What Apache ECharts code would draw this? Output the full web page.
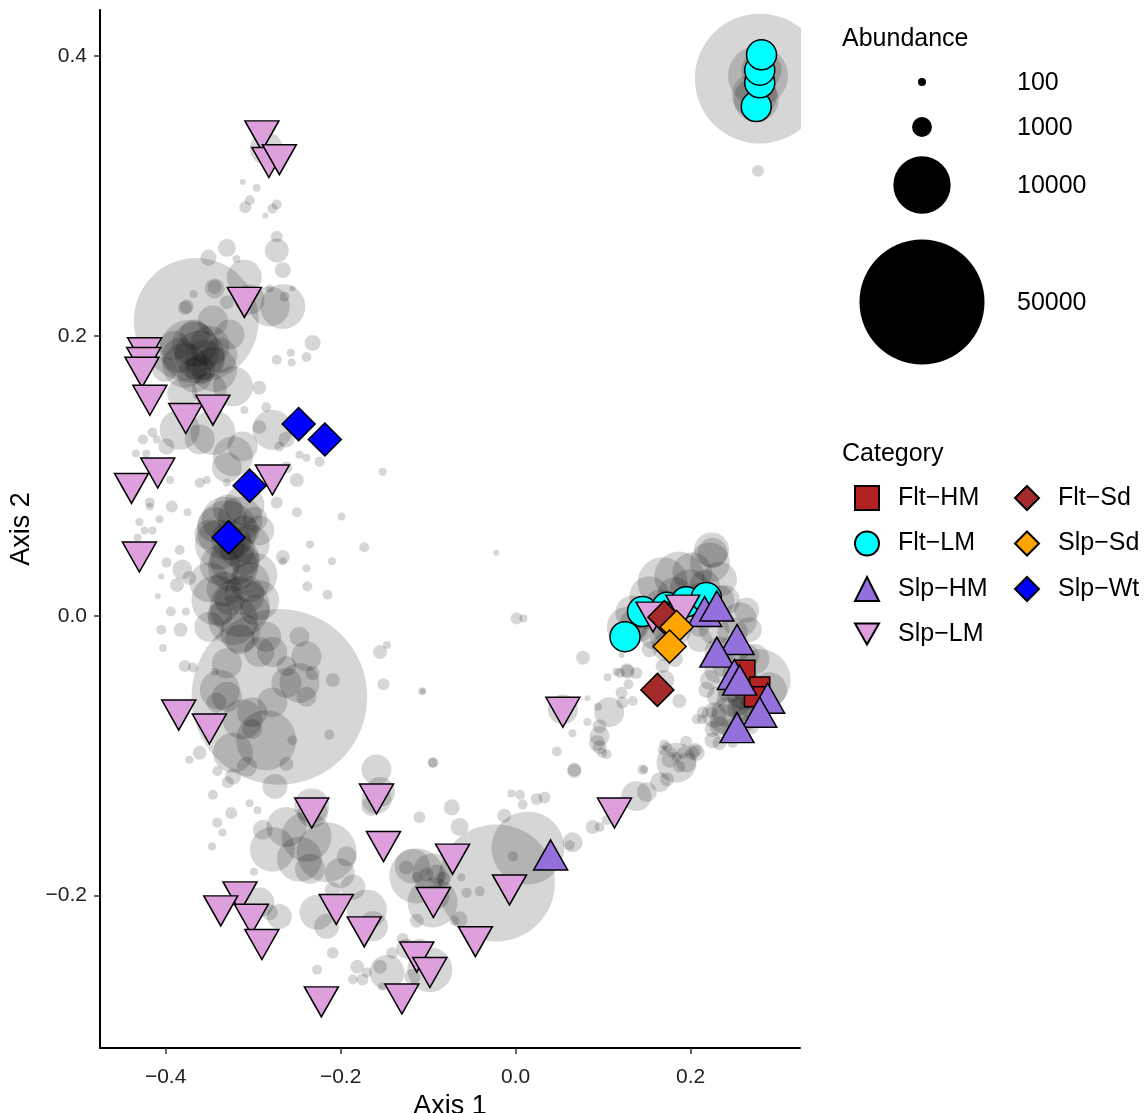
<!DOCTYPE html>
<html>
<head>
<meta charset="utf-8">
<script src="https://cdn.jsdelivr.net/npm/echarts@6/dist/echarts.min.js"></script>
<style>
  html, body { margin: 0; padding: 0; background: #fff; }
  #chart { width: 1148px; height: 1113px; }
</style>
</head>
<body>
<div id="chart"></div>
<script>
// taxa bubbles: [axis1, axis2, abundance]
var taxa = [
	[-0.285, 0.334, 3100], [-0.296, 0.306, 100], [-0.304, 0.297, 190], [-0.309, 0.292, 300],
	[-0.273, 0.294, 190], [-0.278, 0.291, 190], [-0.273, 0.271, 300], [-0.273, 0.261, 1540],
	[-0.330, 0.263, 800], [-0.351, 0.256, 610], [-0.319, 0.255, 100], [-0.266, 0.247, 610],
	[-0.310, 0.242, 3520], [-0.344, 0.235, 440], [-0.255, 0.234, 40], [-0.281, 0.234, 100],
	[-0.264, 0.228, 190], [-0.365, 0.211, 49900], [-0.266, 0.221, 6010], [-0.312, 0.310, 40],
	[-0.286, 0.286, 40], [-0.368, 0.230, 100], [-0.378, 0.220, 440], [-0.344, 0.234, 1020],
	[-0.330, 0.224, 440], [-0.304, 0.226, 2520], [-0.281, 0.221, 4680],
	[-0.373, 0.190, 11000], [-0.361, 0.186, 7500], [-0.378, 0.179, 6000], [-0.350, 0.193, 4680],
	[-0.367, 0.172, 3520], [-0.344, 0.176, 6000], [-0.390, 0.193, 2520], [-0.346, 0.211, 2520],
	[-0.367, 0.194, 6000], [-0.355, 0.183, 4680], [-0.384, 0.186, 3520], [-0.361, 0.176, 2520],
	[-0.338, 0.186, 3520], [-0.367, 0.201, 2520], [-0.327, 0.201, 2520], [-0.401, 0.176, 1690],
	[-0.376, 0.221, 440], [-0.232, 0.195, 610], [-0.257, 0.188, 100], [-0.273, 0.183, 190],
	[-0.256, 0.181, 100], [-0.239, 0.185, 190], [-0.323, 0.164, 4680], [-0.350, 0.161, 3520],
	[-0.381, 0.159, 2520], [-0.293, 0.163, 440], [-0.285, 0.149, 190], [-0.310, 0.147, 100],
	[-0.278, 0.133, 4680], [-0.293, 0.135, 440], [-0.262, 0.126, 610], [-0.270, 0.121, 190],
	[-0.346, 0.131, 6000], [-0.361, 0.126, 2520], [-0.384, 0.133, 4680], [-0.399, 0.121, 610],
	[-0.415, 0.131, 190], [-0.426, 0.126, 190], [-0.410, 0.126, 100], [-0.323, 0.114, 4680],
	[-0.312, 0.121, 2520], [-0.330, 0.106, 2520], [-0.247, 0.115, 100], [-0.239, 0.113, 100],
	[-0.224, 0.110, 190], [-0.152, 0.103, 100], [-0.434, 0.116, 100], [-0.422, 0.116, 100],
	[-0.395, 0.097, 100], [-0.361, 0.095, 190], [-0.353, 0.097, 100], [-0.330, 0.095, 100],
	[-0.262, 0.106, 300], [-0.250, 0.097, 440], [-0.273, 0.081, 300], [-0.250, 0.074, 190],
	[-0.199, 0.071, 100], [-0.418, 0.081, 190], [-0.418, 0.078, 100], [-0.430, 0.067, 100],
	[-0.424, 0.061, 100], [-0.415, 0.061, 100], [-0.407, 0.069, 100], [-0.432, 0.056, 100],
	[-0.393, 0.078, 300], [-0.375, 0.074, 100], [-0.330, 0.061, 11000], [-0.315, 0.069, 6000],
	[-0.338, 0.051, 7500], [-0.304, 0.051, 4680], [-0.321, 0.040, 7500], [-0.350, 0.058, 2520],
	[-0.293, 0.061, 2520], [-0.310, 0.079, 4680], [-0.298, 0.029, 6000], [-0.235, 0.051, 100],
	[-0.333, 0.069, 6000], [-0.325, 0.054, 4680], [-0.344, 0.065, 3520], [-0.310, 0.061, 2520],
	[-0.318, 0.047, 3520], [-0.329, 0.076, 2520], [-0.298, 0.069, 1690], [-0.338, 0.036, 4680],
	[-0.310, 0.015, 4680], [-0.333, 0.019, 3520],
	[-0.310, 0.040, 2520], [-0.327, 0.011, 2520], [-0.298, 0.004, 2520], [-0.315, -0.017, 2520],
	[-0.338, 0.001, 1690],
	[-0.266, 0.042, 440], [-0.266, 0.039, 100], [-0.210, 0.039, 100], [-0.173, 0.049, 190],
	[-0.239, 0.034, 100], [-0.238, 0.021, 190], [-0.215, 0.015, 190], [-0.405, 0.028, 40],
	[-0.409, 0.014, 40], [-0.384, 0.047, 190], [-0.399, 0.038, 190], [-0.381, 0.033, 1020],
	[-0.387, 0.022, 440], [-0.373, 0.027, 440], [-0.350, 0.024, 4680], [-0.323, 0.035, 7500],
	[-0.304, 0.024, 4680], [-0.342, 0.011, 7500], [-0.315, 0.006, 11000], [-0.293, 0.011, 4680],
	[-0.323, -0.003, 7500], [-0.350, -0.008, 2520], [-0.394, 0.003, 190], [-0.377, 0.003, 100],
	[-0.405, -0.010, 190], [-0.383, -0.010, 440],
	[-0.270, -0.058, 100000], [-0.315, -0.012, 4680], [-0.285, -0.015, 2520], [-0.247, -0.015, 1020],
	[-0.330, -0.034, 2520], [-0.293, -0.026, 2520], [-0.278, -0.026, 2520], [-0.262, -0.036, 1020],
	[-0.239, -0.029, 2520], [-0.247, -0.048, 4680], [-0.262, -0.048, 2520], [-0.278, -0.062, 2520],
	[-0.338, -0.053, 4680], [-0.330, -0.058, 2520], [-0.342, -0.062, 1020], [-0.301, -0.069, 2520],
	[-0.285, -0.089, 11000], [-0.312, -0.074, 4680], [-0.323, -0.098, 4680], [-0.301, -0.081, 1020],
	[-0.239, -0.058, 1020], [-0.232, -0.041, 440], [-0.209, -0.046, 440], [-0.213, -0.085, 190],
	[-0.255, -0.089, 190], [-0.262, -0.106, 440], [-0.275, -0.122, 1690], [-0.307, -0.108, 1020],
	[-0.323, -0.115, 610], [-0.329, -0.119, 300], [-0.341, -0.111, 190], [-0.361, -0.098, 440],
	[-0.373, -0.103, 100], [-0.403, -0.023, 100], [-0.378, -0.036, 300], [-0.369, -0.037, 190],
	[-0.344, -0.040, 100], [-0.342, -0.072, 100], [-0.155, -0.026, 440], [-0.147, -0.021, 100],
	[-0.151, -0.049, 300], [-0.107, -0.054, 100], [-0.094, -0.105, 190], [-0.159, -0.110, 2520],
	[-0.346, -0.128, 190], [-0.325, -0.141, 300], [-0.341, -0.148, 190], [-0.335, -0.155, 100],
	[-0.347, -0.165, 100], [-0.299, -0.183, 100], [-0.304, -0.134, 100], [-0.295, -0.139, 100],
	[-0.239, -0.158, 7500], [-0.216, -0.169, 11000], [-0.278, -0.167, 6000], [-0.262, -0.151, 4680],
	[-0.247, -0.174, 6000], [-0.235, -0.181, 2520], [-0.201, -0.184, 2520], [-0.186, -0.194, 1690],
	[-0.227, -0.212, 3520], [-0.170, -0.210, 4680], [-0.163, -0.222, 2520], [-0.216, -0.222, 1690],
	[-0.232, -0.141, 2520], [-0.289, -0.153, 1020], [-0.193, -0.172, 1020], [-0.209, -0.196, 610],
	[-0.113, -0.186, 9180], [-0.095, -0.184, 4680], [-0.293, -0.205, 2520], [-0.270, -0.215, 1690],
	[-0.281, -0.212, 610], [-0.209, -0.241, 300], [-0.227, -0.253, 190], [-0.181, -0.251, 440],
	[-0.175, -0.260, 300], [-0.186, -0.260, 190], [-0.170, -0.255, 190], [-0.155, -0.251, 440],
	[-0.147, -0.255, 3520], [-0.141, -0.241, 300], [-0.153, -0.265, 100], [-0.125, -0.238, 1020],
	[-0.098, -0.253, 6000], [-0.110, -0.238, 1020], [-0.118, -0.258, 610], [-0.129, -0.231, 300],
	[-0.165, -0.136, 1020], [-0.155, -0.126, 2520], [-0.233, -0.136, 3520], [-0.159, -0.131, 2520],
	[-0.022, -0.191, 43700], [0.014, -0.166, 16500], [-0.003, -0.172, 190], [-0.118, -0.179, 3520],
	[-0.125, -0.180, 440], [-0.113, -0.187, 190], [-0.102, -0.185, 440], [-0.090, -0.185, 1020],
	[-0.083, -0.188, 440], [-0.090, -0.201, 1690], [-0.095, -0.205, 7500], [-0.056, -0.198, 190],
	[-0.041, -0.197, 190], [-0.062, -0.187, 100], [-0.073, -0.137, 610], [-0.064, -0.151, 800],
	[-0.110, -0.144, 300], [-0.095, -0.105, 190], [0.047, -0.097, 190], [0.067, -0.111, 440],
	[-0.005, -0.127, 100], [0.005, -0.128, 190], [0.008, -0.135, 190], [0.024, -0.131, 300],
	[0.033, -0.130, 300], [-0.013, -0.143, 440], [0.065, -0.162, 1020], [0.062, -0.164, 190],
	[0.088, -0.151, 440], [0.096, -0.151, 190], [0.104, -0.146, 190], [0.138, -0.129, 2520],
	[0.150, -0.126, 1020], [0.165, -0.119, 1020], [0.173, -0.117, 440], [0.147, -0.110, 100],
	[0.184, -0.105, 4680], [0.195, -0.105, 1020], [0.202, -0.098, 440], [0.191, -0.098, 300],
	[0.173, -0.094, 190], [0.093, -0.091, 610], [0.099, -0.098, 190], [-0.064, -0.217, 610],
	[-0.070, -0.218, 190], [-0.113, -0.218, 440],
	[-0.022, 0.045, 40], [0.001, -0.002, 300], [0.009, -0.002, 100], [-0.106, -0.054, 40],
	[0.077, -0.030, 440], [0.121, -0.028, 40], [0.105, -0.044, 100], [0.115, -0.040, 100],
	[0.128, -0.040, 440], [0.138, -0.041, 300], [0.129, -0.049, 190], [0.121, -0.055, 300],
	[0.168, -0.036, 440], [0.082, -0.059, 40], [0.094, -0.065, 100], [0.107, -0.069, 2520],
	[0.122, -0.062, 300], [0.134, -0.061, 190], [0.054, -0.067, 2520], [0.082, -0.076, 100],
	[0.065, -0.084, 100], [0.096, -0.086, 1020], [0.096, -0.094, 440], [0.104, -0.099, 190],
	[0.187, -0.061, 440], [0.170, -0.092, 190], [0.179, -0.098, 190], [0.195, -0.090, 300],
	[0.205, -0.096, 440], [0.213, -0.074, 190], [0.225, -0.081, 610], [0.224, -0.069, 300],
	[0.127, -0.008, 4680], [0.134, 0.002, 3520], [0.153, 0.014, 4680], [0.168, 0.024, 7500],
	[0.187, 0.028, 7500], [0.202, 0.031, 4680], [0.222, 0.038, 4680], [0.225, 0.045, 2520],
	[0.179, -0.008, 4680], [0.173, -0.022, 2520], [0.157, -0.015, 1690], [0.195, 0.002, 2520],
	[0.210, -0.008, 1020],
	[0.210, 0.011, 3520], [0.199, 0.019, 4680], [0.182, 0.015, 3520], [0.165, 0.008, 2520],
	[0.147, 0.001, 2520], [0.136, -0.006, 2520], [0.233, 0.026, 3520], [0.239, 0.011, 2520],
	[0.256, -0.003, 3520], [0.250, -0.024, 2520], [0.262, -0.053, 4680], [0.250, -0.060, 3520],
	[0.239, -0.074, 2520], [0.262, -0.074, 1690], [0.273, -0.064, 2520], [0.290, -0.053, 3520],
	[0.224, 0.047, 3520], [0.165, -0.017, 1020], [0.153, -0.024, 610], [0.210, -0.017, 1690],
	[0.227, -0.010, 2520], [0.182, -0.031, 610], [0.170, -0.046, 1020],
	[0.239, -0.035, 1690], [0.256, -0.067, 1690], [0.245, -0.081, 1020], [0.227, -0.071, 1690],
	[0.267, -0.078, 1020], [0.273, -0.031, 2520], [0.222, -0.046, 1020], [0.233, 0.011, 2520],
	[0.216, 0.022, 2520], [0.199, 0.008, 1690], [0.170, -0.003, 1690], [0.142, -0.010, 1690],
	[0.264, 0.004, 1690], [0.267, -0.010, 1690], [0.279, -0.046, 11800], [0.230, -0.039, 1690],
	[0.218, -0.053, 610], [0.230, -0.058, 1020], [0.241, -0.069, 2520], [0.233, -0.079, 1020],
	[0.225, -0.089, 610], [0.233, -0.091, 440], [0.214, -0.069, 300], [0.207, -0.074, 190],
	[0.248, -0.091, 190], [0.207, -0.098, 610], [0.184, -0.101, 190], [0.168, -0.096, 190],
	[0.176, -0.103, 610], [0.187, -0.108, 300], [0.145, -0.110, 190], [0.127, -0.039, 440],
	[0.119, -0.041, 190], [0.096, -0.079, 440], [0.067, -0.110, 440], [0.264, -0.065, 2520],
	[0.256, -0.058, 1690], [0.245, -0.053, 1690], [0.248, -0.041, 1020], [0.264, -0.029, 1690],
	[0.233, -0.026, 2520], [0.248, -0.012, 2520],
	[0.279, 0.384, 54000], [0.277, 0.386, 11000], [0.273, 0.372, 6000], [0.281, 0.390, 4680],
	[0.275, 0.369, 6000], [0.277, 0.318, 300]
];

// samples: [axis1, axis2]
var fltHM = [[0.262, -0.039], [0.279, -0.051], [0.273, -0.058]];
var fltLM = [[0.125, -0.015], [0.145, 0.003], [0.173, 0.006], [0.195, 0.010], [0.218, 0.013],
	[0.275, 0.364], [0.279, 0.381], [0.279, 0.390], [0.281, 0.401]];
var slpHM = [[0.040, -0.171], [0.216, 0.003], [0.230, 0.007], [0.253, -0.017], [0.230, -0.026],
	[0.250, -0.042], [0.256, -0.046], [0.288, -0.059], [0.279, -0.069], [0.253, -0.080]];
var slpLM = [[-0.290, 0.343], [-0.282, 0.324], [-0.270, 0.326], [-0.310, 0.224], [-0.424, 0.188],
	[-0.425, 0.181], [-0.427, 0.174], [-0.418, 0.154], [-0.377, 0.141], [-0.346, 0.147],
	[-0.409, 0.102], [-0.439, 0.091], [-0.278, 0.097], [-0.430, 0.042], [-0.385, -0.071],
	[-0.350, -0.081], [-0.233, -0.141], [-0.159, -0.131], [-0.151, -0.165], [-0.315, -0.201],
	[-0.337, -0.211], [-0.302, -0.217], [-0.290, -0.235], [-0.205, -0.210], [-0.173, -0.226],
	[-0.113, -0.244], [-0.098, -0.255], [-0.222, -0.276], [-0.130, -0.274], [-0.072, -0.174],
	[-0.094, -0.205], [-0.007, -0.196], [-0.046, -0.233], [0.113, -0.141], [0.054, -0.069],
	[0.157, -0.001], [0.191, 0.004]];
var fltSd = [[0.170, -0.001], [0.162, -0.053]];
var slpSd = [[0.184, -0.008], [0.176, -0.022]];
var slpWt = [[-0.248, 0.137], [-0.218, 0.126], [-0.304, 0.093], [-0.328, 0.056]];

var xTicks = [-0.4, -0.2, 0, 0.2];
var yTicks = [-0.2, 0, 0.2, 0.4];
var abundanceBreaks = [100, 1000, 10000, 50000];

var FONT = '"Liberation Sans", Arial, sans-serif';
var DOWN = 'path://M0,0L20,0L10,17.3Z';

// area scale like ggplot scale_size
function sizeOf(v) {
	return 2.5 + 0.548 * Math.sqrt(v);
}

function fmt(v) {
	return v.toFixed(1).replace('-', '\u2212');
}

function sampleSeries(name, data, symbol, size, color) {
	return {
		name: name,
		type: 'scatter',
		data: data,
		symbol: symbol,
		symbolSize: size,
		itemStyle: { color: color, borderColor: '#000', borderWidth: 1.5, opacity: 1 },
		emphasis: { disabled: true },
		z: 3
	};
}

var myChart = echarts.init(document.getElementById('chart'));

var graphics = [
	// panel edge: hide the part of the big bubble past the right border
	{ type: 'rect', shape: { x: 801, y: 0, width: 36, height: 200 }, style: { fill: '#fff' }, z: 50 },
	{ type: 'text', left: 842, top: 27, style: { text: 'Abundance', font: '25px ' + FONT, fill: '#000' }, z: 60 },
	{ type: 'text', left: 842, top: 442, style: { text: 'Category', font: '25px ' + FONT, fill: '#000' }, z: 60 }
];
var legendY = [82, 127, 185, 302];
abundanceBreaks.forEach(function (v, i) {
	graphics.push({
		type: 'circle',
		shape: { cx: 922, cy: legendY[i], r: sizeOf(v) / 2 },
		style: { fill: '#000' },
		z: 60
	});
	graphics.push({
		type: 'text', x: 1017, y: legendY[i] + 1,
		style: { text: String(v), font: '25px ' + FONT, fill: '#000', verticalAlign: 'middle' },
		z: 60
	});
});

var legendText = { fontSize: 25, lineHeight: 24, fontFamily: FONT, color: '#000', padding: [0, 0, 0, 14] };

var option = {
	animation: false,
	backgroundColor: '#fff',
	grid: { left: 100, right: 348, top: 10, bottom: 65, outerBoundsMode: 'none' },
	xAxis: {
		type: 'value',
		min: -0.475,
		max: 0.325,
		name: 'Axis 1',
		nameLocation: 'middle',
		nameGap: 35,
		nameTextStyle: { fontSize: 27, fontFamily: FONT, color: '#000' },
		splitLine: { show: false },
		axisLine: { onZero: false, lineStyle: { color: '#000', width: 2 } },
		axisTick: { length: 6, lineStyle: { color: '#333', width: 1.5 }, customValues: xTicks },
		axisLabel: { customValues: xTicks, formatter: fmt, fontSize: 21, fontFamily: FONT, color: '#222', margin: 19 }
	},
	yAxis: {
		type: 'value',
		min: -0.309,
		max: 0.433,
		name: 'Axis 2',
		nameLocation: 'middle',
		nameGap: 56,
		nameTextStyle: { fontSize: 27, fontFamily: FONT, color: '#000' },
		splitLine: { show: false },
		axisLine: { onZero: false, lineStyle: { color: '#000', width: 2 } },
		axisTick: { length: 6, lineStyle: { color: '#333', width: 1.5 }, customValues: yTicks },
		axisLabel: { customValues: yTicks, formatter: fmt, fontSize: 21, fontFamily: FONT, color: '#222', margin: 13 }
	},
	legend: [{
		orient: 'vertical',
		left: 849,
		top: 480,
		itemWidth: 24,
		itemHeight: 24,
		itemGap: 19.5,
		textStyle: legendText,
		data: ['Flt\u2212HM', 'Flt\u2212LM', 'Slp\u2212HM', 'Slp\u2212LM']
	}, {
		orient: 'vertical',
		left: 1009,
		top: 480,
		itemWidth: 24,
		itemHeight: 24,
		itemGap: 19.5,
		textStyle: legendText,
		data: ['Flt\u2212Sd', 'Slp\u2212Sd', 'Slp\u2212Wt']
	}],
	graphic: graphics,
	series: [
		{
			name: 'taxa',
			type: 'scatter',
			data: taxa,
			symbol: 'circle',
			symbolSize: function (val) { return sizeOf(val[2]); },
			itemStyle: { color: 'rgba(0,0,0,0.2)' },
			emphasis: { disabled: true },
			clip: true,
			z: 1
		},
		sampleSeries('Flt\u2212LM', fltLM, 'circle', 30, '#00FFFF'),
		sampleSeries('Flt\u2212HM', fltHM, 'rect', 20, '#B22222'),
		sampleSeries('Slp\u2212LM', slpLM, DOWN, [34, 30], '#DDA0DD'),
		sampleSeries('Slp\u2212HM', slpHM, 'triangle', [34, 30], '#9370DB'),
		sampleSeries('Flt\u2212Sd', fltSd, 'diamond', 33, '#A52A2A'),
		sampleSeries('Slp\u2212Sd', slpSd, 'diamond', 33, '#FFA500'),
		sampleSeries('Slp\u2212Wt', slpWt, 'diamond', 33, '#0000FF')
	]
};

myChart.setOption(option);
</script>
</body>
</html>
